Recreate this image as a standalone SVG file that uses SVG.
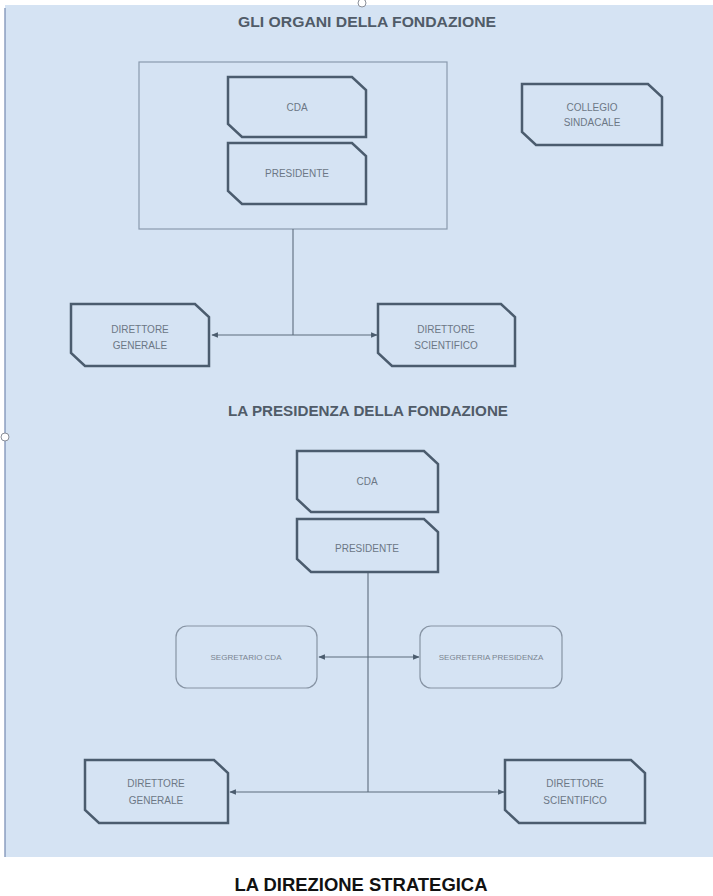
<svg xmlns="http://www.w3.org/2000/svg" width="713" height="896" viewBox="0 0 713 896">
<defs>
<style>
.bg{fill:#d5e3f3}
.box{fill:#d5e3f3;stroke:#4b5c6e;stroke-width:2.5;stroke-linejoin:miter}
.soft{fill:#d5e3f3;stroke:#8794a4;stroke-width:1.2}
.frame{fill:none;stroke:#8a9aae;stroke-width:1.2}
.lbl{font-family:"Liberation Sans",Arial,sans-serif;font-size:10px;fill:#6c7785;text-anchor:middle;dominant-baseline:middle}
.sm{font-family:"Liberation Sans",Arial,sans-serif;font-size:8px;fill:#7a8490;text-anchor:middle;dominant-baseline:middle}
.ttl{font-family:"Liberation Sans",Arial,sans-serif;font-size:14px;font-weight:bold;fill:#505b68;text-anchor:middle}
.big{font-family:"Liberation Sans",Arial,sans-serif;font-size:19px;font-weight:bold;fill:#111;text-anchor:middle}
.con{stroke:#5d6c7c;stroke-width:1.1;fill:none}
</style>
<marker id="ah" viewBox="0 0 10 10" refX="9" refY="5" markerWidth="6" markerHeight="6" orient="auto">
<path d="M0,1 L10,5 L0,9 Z" fill="#4b5c6e"/>
</marker>
</defs>
<rect x="0" y="0" width="713" height="896" fill="#ffffff"/>
<rect class="bg" x="5" y="5" width="708" height="852"/>
<line x1="5" y1="8" x2="5" y2="857" stroke="#7d91b6" stroke-width="1.3"/>
<circle cx="5" cy="437" r="4" fill="#ffffff" stroke="#8a8f99" stroke-width="1"/>
<circle cx="362" cy="3" r="4" fill="#ffffff" stroke="#8a8f99" stroke-width="1"/>

<text class="ttl" x="367" y="27" textLength="258" lengthAdjust="spacingAndGlyphs">GLI ORGANI DELLA FONDAZIONE</text>
<text class="ttl" x="368" y="416" textLength="280" lengthAdjust="spacingAndGlyphs">LA PRESIDENZA DELLA FONDAZIONE</text>
<text class="big" x="361" y="891" textLength="253" lengthAdjust="spacingAndGlyphs">LA DIREZIONE STRATEGICA</text>

<g id="frame"><rect class="frame" x="139" y="62" width="308" height="167"/></g>

<g id="connectors">
<line class="con" x1="293" y1="229" x2="293" y2="335"/>
<line class="con" x1="293" y1="335" x2="212" y2="335" marker-end="url(#ah)"/>
<line class="con" x1="293" y1="335" x2="377" y2="335" marker-end="url(#ah)"/>
<line class="con" x1="368" y1="572" x2="368" y2="792"/>
<line class="con" x1="368" y1="657" x2="319" y2="657" marker-end="url(#ah)"/>
<line class="con" x1="368" y1="657" x2="419" y2="657" marker-end="url(#ah)"/>
<line class="con" x1="368" y1="792" x2="230" y2="792" marker-end="url(#ah)"/>
<line class="con" x1="368" y1="792" x2="504" y2="792" marker-end="url(#ah)"/>
</g>

<g id="cda1"><path class="box" d="M228,77 H352 L366,90 V137 H242 L228,124 Z"/><text class="lbl" x="297" y="108">CDA</text></g>
<g id="presidente1"><path class="box" d="M228,143 H352 L366,156 V204 H242 L228,191 Z"/><text class="lbl" x="297" y="174">PRESIDENTE</text></g>
<g id="collegio"><path class="box" d="M522,84 H648 L662,97 V145 H536 L522,132 Z"/><text class="lbl" x="592" y="108">COLLEGIO</text><text class="lbl" x="592" y="123">SINDACALE</text></g>
<g id="dg1"><path class="box" d="M71,304 H195 L209,317 V366 H85 L71,353 Z"/><text class="lbl" x="140" y="330">DIRETTORE</text><text class="lbl" x="140" y="346">GENERALE</text></g>
<g id="ds1"><path class="box" d="M378,304 H501 L515,317 V366 H392 L378,353 Z"/><text class="lbl" x="446" y="330">DIRETTORE</text><text class="lbl" x="446" y="346">SCIENTIFICO</text></g>

<g id="cda2"><path class="box" d="M297,451 H424 L438,464 V512 H311 L297,499 Z"/><text class="lbl" x="367" y="482">CDA</text></g>
<g id="presidente2"><path class="box" d="M297,519 H424 L438,532 V572 H311 L297,559 Z"/><text class="lbl" x="367" y="549">PRESIDENTE</text></g>
<g id="segretario"><rect class="soft" x="176" y="626" width="141" height="62" rx="11"/><text class="sm" x="246" y="658">SEGRETARIO CDA</text></g>
<g id="segreteria"><rect class="soft" x="420" y="626" width="142" height="62" rx="11"/><text class="sm" x="491" y="658">SEGRETERIA PRESIDENZA</text></g>
<g id="dg2"><path class="box" d="M85,760 H214 L228,773 V823 H99 L85,810 Z"/><text class="lbl" x="156" y="784">DIRETTORE</text><text class="lbl" x="156" y="801">GENERALE</text></g>
<g id="ds2"><path class="box" d="M505,760 H631 L645,773 V823 H519 L505,810 Z"/><text class="lbl" x="575" y="784">DIRETTORE</text><text class="lbl" x="575" y="801">SCIENTIFICO</text></g>
</svg>
